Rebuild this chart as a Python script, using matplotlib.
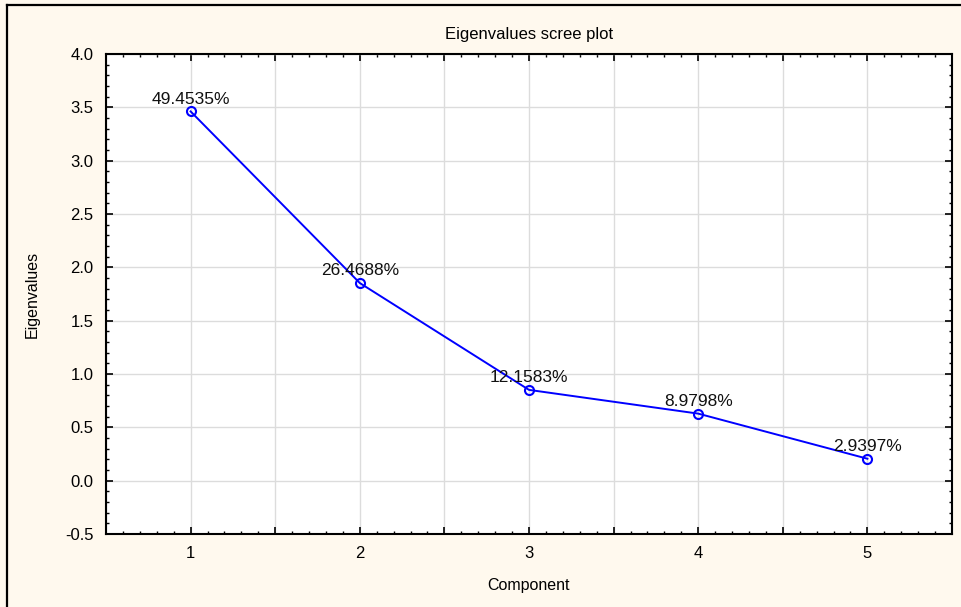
import matplotlib.pyplot as plt
from matplotlib.lines import Line2D
from matplotlib.ticker import MultipleLocator, FuncFormatter

plt.rcParams['font.family'] = ['Liberation Sans', 'DejaVu Sans']

components = [1, 2, 3, 4, 5]
pct_variance = [49.4535, 26.4688, 12.1583, 8.9798, 2.9397]
n_vars = 7
eigenvalues = [p * n_vars / 100 for p in pct_variance]

fig = plt.figure(figsize=(9.62, 6.07), dpi=100, facecolor='#fff9ee')
ax = fig.add_axes([106 / 962, 1 - 534 / 607, (952 - 106) / 962, (534 - 54) / 607])
ax.set_facecolor('white')

ax.plot(components, eigenvalues, color='#0000ff', lw=1.4, marker='o', ms=6.5,
        mfc='none', mec='#0000ff', mew=1.5, zorder=3)
for x, y, p in zip(components, eigenvalues, pct_variance):
    ax.annotate(f'{p:.4f}%', (x, y), xytext=(0, 3.5), textcoords='offset points',
                ha='center', va='bottom', fontsize=12.5, color='#111111', zorder=4)

ax.set_xlim(0.5, 5.5)
ax.set_ylim(-0.5, 4.0)
ax.xaxis.set_major_locator(MultipleLocator(0.5))
ax.xaxis.set_minor_locator(MultipleLocator(0.1))
ax.xaxis.set_major_formatter(FuncFormatter(lambda v, _: f'{v:.0f}' if abs(v - round(v)) < 1e-6 else ''))
ax.yaxis.set_major_locator(MultipleLocator(0.5))
ax.yaxis.set_minor_locator(MultipleLocator(0.1))
ax.yaxis.set_major_formatter(FuncFormatter(lambda v, _: f'{v:.1f}'))

ax.grid(True, which='major', color='#dcdcdc', lw=1.0)
ax.tick_params(which='both', direction='in', top=True, right=True, labelsize=12, pad=9)
ax.tick_params(which='major', length=5, width=1.2)
ax.tick_params(which='minor', length=2.5, width=1.0)
for s in ax.spines.values():
    s.set_linewidth(1.5)

ax.set_title('Eigenvalues scree plot', fontsize=12, pad=11)
ax.set_xlabel('Component', fontsize=11.5, labelpad=12)
ax.set_ylabel('Eigenvalues', fontsize=11.5, labelpad=18)

# outer frame along left and top edges
fig.add_artist(Line2D([7 / 962, 7 / 962], [0, 1 - 5 / 607], color='black', lw=1.6,
                      transform=fig.transFigure))
fig.add_artist(Line2D([7 / 962, 1], [1 - 5 / 607, 1 - 5 / 607], color='black', lw=1.6,
                      transform=fig.transFigure))

fig.savefig('out.png', dpi=100, facecolor=fig.get_facecolor())
